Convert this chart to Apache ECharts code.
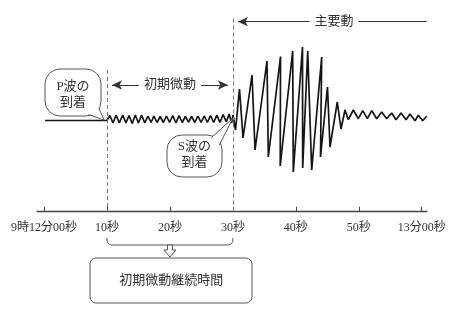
<!DOCTYPE html>
<html><head><meta charset="utf-8">
<script src="https://cdn.jsdelivr.net/npm/echarts@6/dist/echarts.min.js"></script>
<style>html,body{margin:0;padding:0;background:#fff}#c{width:455px;height:312px}</style>
</head><body><div id="c"></div><script>
// ---- data (time in seconds after 9:12:00, amplitude in arbitrary units) ----
const tickValues = [0, 10, 20, 30, 40, 50, 60];
const tickLabels = ['9時12分00秒', '10秒', '20秒', '30秒', '40秒', '50秒', '13分00秒'];

const quietTime = [0.15, 10.0];
const quietAmp  = [0, 0];

const pWaveTime = [10.45,10.95,11.45,11.95,12.5,13.0,13.5,14.0,14.5,15.0,15.5,16.0,16.5,17.0,17.45,17.95,18.45,18.95,19.45,19.95,20.45,20.95,21.45,21.95,22.45,22.95,23.45,23.95,24.45,24.95,25.45,25.95,26.45,26.95,27.45,27.95,28.45,28.95,29.4,29.8];
const pWaveAmp  = [5,-2.5,5.5,-2.5,5.5,-2.5,5,-3,5.5,-2.5,5.5,-2.5,4.5,-2,4.5,-2,4,-2,4.5,-2,5,-2.5,5,-2,4,-1.5,4,-2,4.5,-2,4.5,-2,5,-2,5.5,-2,6,-1.5,6.5,-2.5];

const sWaveTime = [30.02,30.42,31.05,31.61,33.04,33.52,35.42,35.63,37.57,37.52,39.50,39.60,41.06,41.09,41.89,42.52,44.11,43.92,45.03,45.43,46.59,47.18];
const sWaveAmp  = [5.5,-9.5,31.5,-17.5,45.5,-29.5,59.5,-36.5,64,-45.5,69.5,-51.5,73.5,-47.5,69.5,-49.5,63.5,-36.5,33.5,-26.5,18.5,-8.5];

const codaTime = [47.81,48.34,49.13,49.93,50.63,51.36,52.06,52.85,53.64,54.44,55.23,55.92,56.71,57.51,58.14,58.94,59.46,60.16,60.79];
const codaAmp  = [10.5,0.8,10.5,1.8,9.8,1.8,9.8,1.8,8.5,1.8,7.5,0.8,7.5,0.8,6.5,-0.2,5.2,-0.2,4.2];

const pArrival = 10, sArrival = 30, traceEnd = 60.8;

// ---- build ----
const trace = [];
[[quietTime, quietAmp], [pWaveTime, pWaveAmp], [sWaveTime, sWaveAmp], [codaTime, codaAmp]]
  .forEach(([t, a]) => t.forEach((x, i) => trace.push([x, a[i]])));

const FONT = '"Liberation Serif", "Noto Sans CJK JP", serif';
const INK = '#333';
const AX_MIN = -1.12, AX_MAX = 60.84, Y_MIN = -91.2, Y_MAX = 110.5;

const chart = echarts.init(document.getElementById('c'), null, {renderer: 'canvas'});
chart.setOption({
  animation: false,
  backgroundColor: '#fff',
  grid: {left: 37, right: 28, top: 10, bottom: 100.3},
  xAxis: {
    type: 'value', min: AX_MIN, max: AX_MAX,
    splitLine: {show: false},
    axisLine: {onZero: false, lineStyle: {color: '#444', width: 1.3}},
    axisTick: {show: true, inside: true, length: 5, customValues: tickValues, lineStyle: {color: '#444', width: 1}},
    axisLabel: {customValues: tickValues, margin: 10, fontSize: 12, color: INK, fontFamily: FONT,
      formatter: v => { const i = tickValues.indexOf(v); return i >= 0 ? tickLabels[i] : ''; }}
  },
  yAxis: {type: 'value', min: Y_MIN, max: Y_MAX, show: false},
  series: [
    {
      type: 'line', data: trace, symbol: 'none', z: 3,
      lineStyle: {color: '#151515', width: 1.7}
    },
    {
      type: 'line', data: [], silent: true,
      markLine: {
        silent: true, symbol: 'none', animation: false,
        lineStyle: {color: '#777', type: [4, 3], width: 1},
        label: {show: false},
        data: [
          [{coord: [pArrival, 50.5]}, {coord: [pArrival, Y_MIN]}],
          [{coord: [sArrival, 102]}, {coord: [sArrival, Y_MIN]}]
        ]
      }
    },
    {
      type: 'line', data: [], silent: true,
      markLine: {
        silent: true, animation: false, symbol: ['arrow', 'arrow'], symbolSize: [7, 10],
        lineStyle: {color: '#333', type: 'solid', width: 1},
        label: {show: false},
        data: [
          [{coord: [pArrival + 0.8, 35.5]}, {coord: [sArrival - 0.8, 35.5]}]
        ]
      }
    },
    {
      type: 'line', data: [], silent: true,
      markLine: {
        silent: true, animation: false, symbol: ['arrow', 'none'], symbolSize: [7, 10],
        lineStyle: {color: '#333', type: 'solid', width: 1},
        label: {show: false},
        data: [
          [{coord: [sArrival + 0.8, 98.8]}, {coord: [traceEnd, 98.8]}]
        ]
      }
    }
  ]
});

// ---- annotations anchored in data coordinates ----
const P = (s, v) => chart.convertToPixel({gridIndex: 0}, [s, v]);
const STROKE = '#555';

function bubble(b) {
  const [x1, y1] = P(b.box[0], b.box[1]);
  const [x2, y2] = P(b.box[2], b.box[3]);
  const tail = b.tail.map(p => P(p[0], p[1]));
  const c = P(b.text[0], b.text[1]);
  return [
    {type: 'rect', z: 100, shape: {x: x1, y: y1, width: x2 - x1, height: y2 - y1, r: 15},
      style: {fill: '#fff', stroke: STROKE, lineWidth: 1}},
    {type: 'polygon', z: 101, shape: {points: tail}, style: {fill: '#fff', stroke: null}},
    {type: 'polyline', z: 102, shape: {points: tail}, style: {fill: null, stroke: STROKE, lineWidth: 1}},
    {type: 'text', z: 103, x: c[0], y: c[1],
      style: {text: b.lines.join('\n'), align: 'center', verticalAlign: 'middle', fontSize: 13,
        fontFamily: FONT, lineHeight: 16, fill: INK}}
  ];
}

const els = [];
els.push(...bubble({box: [0.15, 51.5, 9.05, 4.5], tail: [[7.1, 6], [9.52, 0.5], [8.7, 12.5]],
  text: [4.6, 25.5], lines: ['P波の', '到着']}));
els.push(...bubble({box: [19.53, -14.5, 28.27, -56.5], tail: [[26.6, -17], [30.02, 2.5], [27.85, -24.5]],
  text: [23.9, -34.5], lines: ['S波の', '到着']}));

// arrow captions
function caption(s, v, txt) {
  const c = P(s, v);
  return {type: 'text', z: 110, x: c[0], y: c[1],
    style: {text: txt, align: 'center', verticalAlign: 'middle', fontSize: 13, fontFamily: FONT,
      fill: INK, backgroundColor: '#fff', padding: [1, 5]}};
}
els.push(caption((pArrival + sArrival) / 2, 35.5, '初期微動'));
els.push(caption(46.07, 98.8, '主要動'));

// bracket under the axis
{
  const [lx, ly] = P(pArrival, -117.5);
  const [rx] = P(sArrival, -117.5);
  const by = P(pArrival, -124.5)[1];
  const R = 5;
  const pts = [[lx, ly]];
  for (let k = 0; k <= 6; k++) { const a = Math.PI - (k / 6) * (Math.PI / 2); pts.push([lx + R + R * Math.cos(a), by - R + R * Math.sin(a)]); }
  for (let k = 0; k <= 6; k++) { const a = Math.PI / 2 - (k / 6) * (Math.PI / 2); pts.push([rx - R + R * Math.cos(a), by - R + R * Math.sin(a)]); }
  pts.push([rx, ly]);
  els.push({type: 'polyline', z: 100, shape: {points: pts}, style: {fill: null, stroke: STROKE, lineWidth: 1}});
  const cx = P((pArrival + sArrival) / 2, 0)[0];
  els.push({type: 'polygon', z: 101,
    shape: {points: [[cx - 2.5, by], [cx - 2.5, by + 5], [cx - 6, by + 5], [cx, by + 12], [cx + 6, by + 5], [cx + 2.5, by + 5], [cx + 2.5, by]]},
    style: {fill: '#fff', stroke: STROKE, lineWidth: 1}});
  const [bx1, by1] = P(7.3, -137.5);
  const [bx2, by2] = P(33.04, -182.5);
  els.push({type: 'rect', z: 100, shape: {x: bx1, y: by1, width: bx2 - bx1, height: by2 - by1, r: 6},
    style: {fill: '#fff', stroke: STROKE, lineWidth: 1}});
  const tc = P(20.2, -160.5);
  els.push({type: 'text', z: 101, x: tc[0], y: tc[1],
    style: {text: '初期微動継続時間', align: 'center', verticalAlign: 'middle', fontSize: 13, fontFamily: FONT, fill: INK}});
}

chart.setOption({graphic: {elements: els}});
</script></body></html>
